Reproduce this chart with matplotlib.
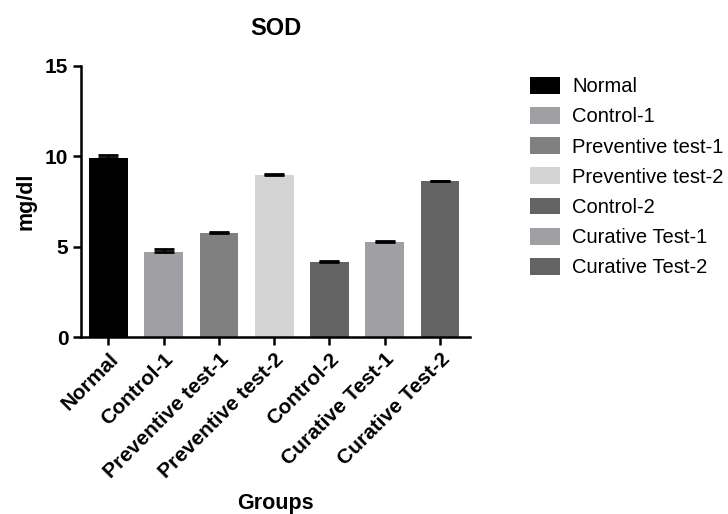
import numpy as np
import matplotlib.pyplot as plt

plt.rcParams['font.family'] = ['Liberation Sans', 'DejaVu Sans']

groups = ["Normal", "Control-1", "Preventive test-1", "Preventive test-2",
          "Control-2", "Curative Test-1", "Curative Test-2"]
means = [9.92, 4.69, 5.76, 8.98, 4.15, 5.24, 8.62]
errs = [0.13, 0.16, 0.06, 0.05, 0.04, 0.05, 0.04]
colors = ["#000000", "#a0a0a4", "#808080", "#d4d4d4", "#636363", "#a0a0a4", "#636363"]

fig = plt.figure(figsize=(7.28, 5.14), dpi=100)
ax = fig.add_axes([0.111, 0.344, 0.535, 0.528])

x = np.arange(len(groups))
bars = ax.bar(x, means, width=0.7, color=colors, label=groups, zorder=2)
ax.errorbar(x, means, yerr=[np.zeros(len(errs)), errs], fmt="none",
            ecolor="black", elinewidth=1.8, capsize=7, capthick=2, zorder=3)

ax.set_xlim(-0.5, 6.55)
ax.set_ylim(0, 15)
ax.set_yticks([0, 5, 10, 15])
ax.set_xticks(x)
ax.set_xticklabels(groups, rotation=45, ha="right", rotation_mode="anchor",
                   fontsize=15, fontweight="bold")
for lab in ax.get_yticklabels():
    lab.set_fontsize(15)
    lab.set_fontweight("bold")

for s in ["top", "right"]:
    ax.spines[s].set_visible(False)
for s in ["left", "bottom"]:
    ax.spines[s].set_linewidth(1.8)
ax.tick_params(width=1.8, length=6, pad=3)

ax.set_title("SOD", fontsize=17, fontweight="bold", pad=22)
ax.set_ylabel("mg/dl", fontsize=15.5, fontweight="bold", labelpad=6)
ax.set_xlabel("Groups", fontsize=15.5, fontweight="bold", labelpad=8)

leg = fig.legend(handles=list(bars), labels=groups, loc="upper left",
                 bbox_to_anchor=(0.717, 0.866), frameon=False, fontsize=14.5,
                 handlelength=1.5, handleheight=0.9, labelspacing=0.54,
                 handletextpad=0.6, borderaxespad=0)

fig.savefig("out.png", dpi=100)
